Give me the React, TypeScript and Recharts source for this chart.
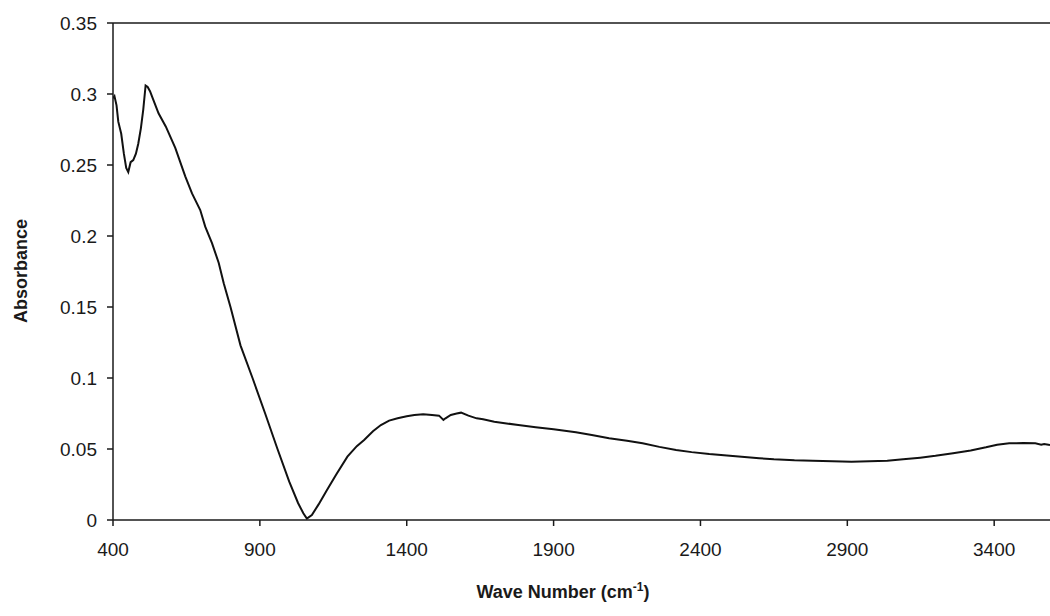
import React from 'react';
import { LineChart, Line, XAxis, YAxis, ReferenceLine } from 'recharts';

const wavenumbers = [
  400, 405, 412, 418, 428, 437, 445, 452, 460, 469, 478, 486, 495, 503, 511, 518, 526, 537, 555, 580,
  612, 646, 669, 697, 714, 737, 760, 777, 800, 834, 875, 918, 960, 1000, 1030, 1048, 1060, 1077, 1100, 1128,
  1160, 1198, 1230, 1255, 1285, 1312, 1340, 1369, 1400, 1426, 1456, 1486, 1510, 1525, 1532, 1550, 1570, 1585, 1610, 1638,
  1660, 1698, 1740, 1780, 1839, 1900, 1976, 2030, 2089, 2150, 2203, 2260, 2317, 2370, 2430, 2490, 2540, 2600, 2650, 2720,
  2782, 2850, 2914, 2975, 3036, 3090, 3148, 3200, 3260, 3320, 3372, 3410, 3451, 3500, 3540, 3560, 3570, 3590,
];

const absorbance = [
  0.297, 0.2985, 0.292, 0.2805, 0.272, 0.258, 0.248, 0.245, 0.252, 0.2535, 0.258, 0.265, 0.276, 0.289, 0.306, 0.305, 0.302, 0.296, 0.2864, 0.277,
  0.262, 0.242, 0.23, 0.2183, 0.2066, 0.195, 0.181, 0.1667, 0.15, 0.123, 0.1, 0.075, 0.05, 0.027, 0.012, 0.0047, 0.001, 0.0035, 0.011, 0.021,
  0.032, 0.0446, 0.052, 0.0563, 0.0625, 0.0669, 0.07, 0.0716, 0.073, 0.0739, 0.0745, 0.0739, 0.0735, 0.0705, 0.0716, 0.074, 0.075, 0.0756, 0.0735, 0.0716,
  0.071, 0.0692, 0.068, 0.0669, 0.0653, 0.0639, 0.0618, 0.0598, 0.0575, 0.0558, 0.054, 0.0515, 0.0493, 0.0478, 0.0465, 0.0455, 0.0446, 0.0435, 0.0427, 0.042,
  0.0418, 0.0414, 0.0411, 0.0414, 0.0418, 0.0427, 0.0439, 0.0452, 0.047, 0.049, 0.0512, 0.053, 0.054, 0.0542, 0.054, 0.053, 0.0535, 0.0528,
];

const xTicks = [400, 900, 1400, 1900, 2400, 2900, 3400];
const yTicks = [0, 0.05, 0.1, 0.15, 0.2, 0.25, 0.3, 0.35];
const yTickLabels = ['0', '0.05', '0.1', '0.15', '0.2', '0.25', '0.3', '0.35'];

const data = wavenumbers.map((w, i) => ({ w, a: absorbance[i] }));

const FONT = '"Liberation Sans", Arial, sans-serif';
const INK = '#1a1a1a';

const XTitle = () => (
  <text x={563} y={598} textAnchor="middle" fontFamily={FONT} fontWeight="bold" fontSize={18} fill={INK}>
    <tspan>Wave Number (cm</tspan>
    <tspan dy={-7} fontSize={12}>-1</tspan>
    <tspan dy={7}>)</tspan>
  </text>
);

const YTitle = () => (
  <text x={27} y={271} transform="rotate(-90 27 271)" textAnchor="middle" fontFamily={FONT} fontWeight="bold" fontSize={18} fill={INK}>
    Absorbance
  </text>
);

export default function App() {
  return (
    <div style={{ position: 'absolute', left: 0, top: 0, width: 1050, height: 616, background: '#fff' }}>
      <LineChart width={1050} height={616} data={data} margin={{ top: 23, right: 0, left: 0, bottom: 0 }}>
        <XAxis
          dataKey="w"
          type="number"
          domain={[400, 3590]}
          ticks={xTicks}
          allowDataOverflow
          height={96}
          tickSize={6}
          tickMargin={17}
          stroke={INK}
          strokeWidth={1.5}
          tick={{ fill: INK, fontSize: 19, fontFamily: FONT }}
          label={<XTitle />}
        />
        <YAxis
          type="number"
          domain={[0, 0.35]}
          ticks={yTicks}
          tickFormatter={(v: number) => yTickLabels[yTicks.indexOf(v)] ?? String(v)}
          width={113}
          tickSize={6}
          tickMargin={10}
          stroke={INK}
          strokeWidth={1.5}
          tick={{ fill: INK, fontSize: 19, fontFamily: FONT }}
          label={<YTitle />}
        />
        <ReferenceLine y={0.35} stroke={INK} strokeWidth={1.5} />
        <Line
          dataKey="a"
          type="linear"
          stroke="#111"
          strokeWidth={2}
          dot={false}
          isAnimationActive={false}
        />
      </LineChart>
    </div>
  );
}
